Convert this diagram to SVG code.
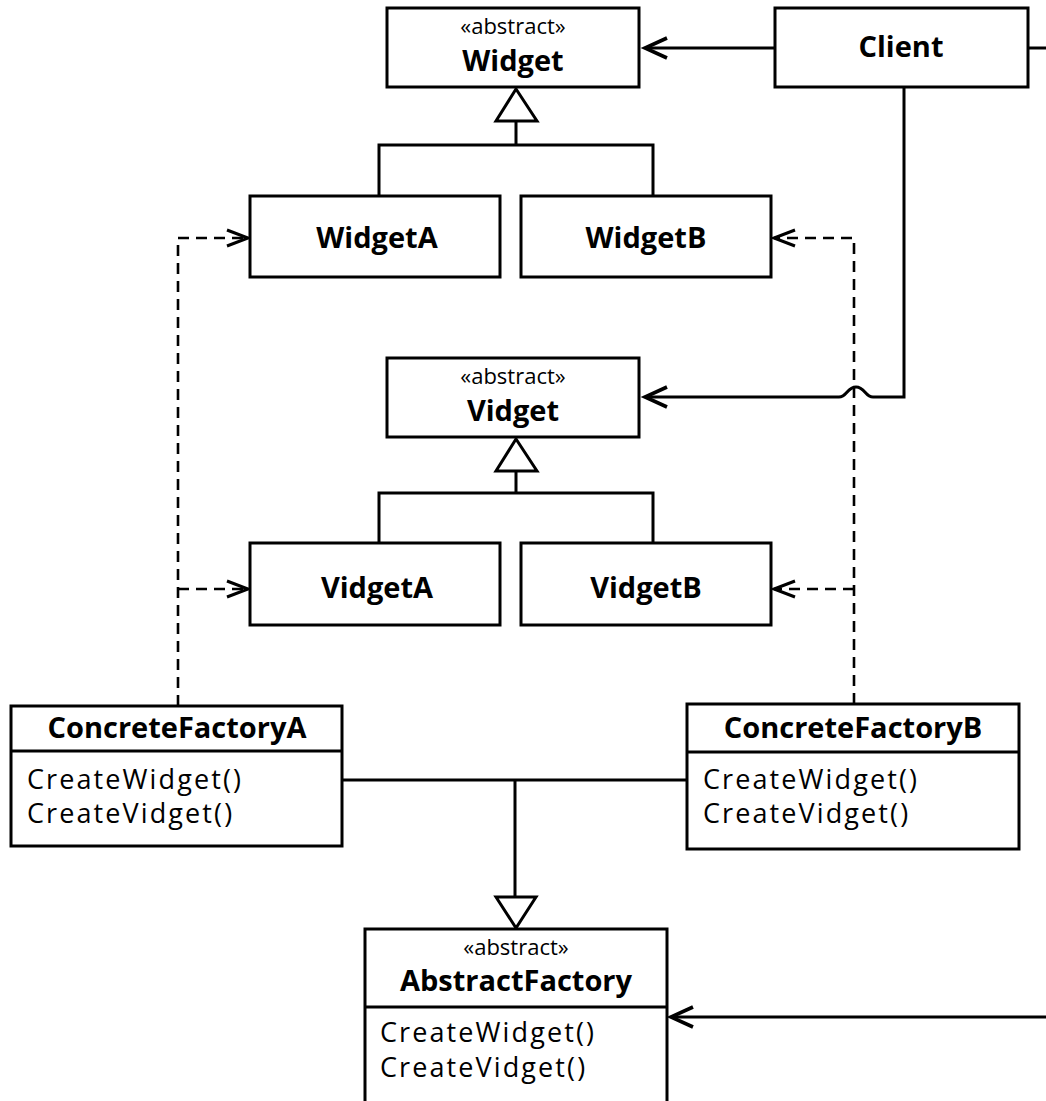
<svg xmlns="http://www.w3.org/2000/svg" width="1046" height="1101" viewBox="0 0 1046 1101">
<style>
.box{fill:#fff;stroke:#000;stroke-width:3}
.ln{fill:none;stroke:#000;stroke-width:3}
.dash{fill:none;stroke:#000;stroke-width:2.6;stroke-dasharray:11 7}
.tri{fill:#fff;stroke:#000;stroke-width:3;stroke-linejoin:miter}
.st{font-family:"Open Sans","Liberation Sans",sans-serif;font-size:22px;text-anchor:middle}
.nm{font-family:"Open Sans","Liberation Sans",sans-serif;font-size:29px;font-weight:bold;text-anchor:middle}
.mb{font-family:"Open Sans","Liberation Sans",sans-serif;font-size:27px;letter-spacing:2.1px}
</style>
<defs>
<marker id="arr" markerUnits="userSpaceOnUse" markerWidth="34" markerHeight="34" refX="25" refY="13" orient="auto">
<path d="M3,3 L25,13 L3,23" fill="none" stroke="#000" stroke-width="3.6" stroke-linejoin="miter"/>
</marker>
<marker id="darr" markerUnits="userSpaceOnUse" markerWidth="34" markerHeight="34" refX="24" refY="12" orient="auto">
<path d="M3,4 L24,12 L3,20" fill="none" stroke="#000" stroke-width="3" stroke-linejoin="miter"/>
</marker>
</defs>
<g id="connectors">
<path class="ln" d="M775,48 H645" marker-end="url(#arr)"/>
<path class="ln" d="M1028,48 H1046"/>
<path class="ln" d="M904,87 V397 H873 C865,397 865,387 856,387 C847,387 847,397 839,397 H645" marker-end="url(#arr)"/>
<path class="ln" d="M1046,1017 H671" marker-end="url(#arr)"/>
<path class="ln" d="M516,121 V145 M379,196 V145 H653 V196"/>
<polygon class="tri" points="516,89 496,121 537,121"/>
<path class="ln" d="M516,471 V493 M379,543 V493 H653 V543"/>
<polygon class="tri" points="516,439 496,471 537,471"/>
<path class="dash" d="M178,706 V238 H248" marker-end="url(#darr)"/>
<path class="dash" d="M178,589 H248" marker-end="url(#darr)"/>
<path class="dash" d="M854,704 V238 H774" marker-end="url(#darr)"/>
<path class="dash" d="M854,589 H774" marker-end="url(#darr)"/>
<path class="ln" d="M342,780 H687 M515,780 V897"/>
<polygon class="tri" points="496,897 536,897 516,928"/>
</g>
<g id="Widget">
<rect class="box" x="387" y="8" width="252" height="79"/>
<text class="st" x="513" y="34">«abstract»</text>
<text class="nm" x="513" y="71">Widget</text>
</g>
<g id="Client">
<rect class="box" x="775" y="8" width="253" height="79"/>
<text class="nm" x="901" y="57">Client</text>
</g>
<g id="WidgetA">
<rect class="box" x="250" y="196" width="250" height="81"/>
<text class="nm" x="377" y="248">WidgetA</text>
</g>
<g id="WidgetB">
<rect class="box" x="521" y="196" width="250" height="81"/>
<text class="nm" x="646" y="248">WidgetB</text>
</g>
<g id="Vidget">
<rect class="box" x="387" y="358" width="252" height="79"/>
<text class="st" x="513" y="384">«abstract»</text>
<text class="nm" x="513" y="421">Vidget</text>
</g>
<g id="VidgetA">
<rect class="box" x="250" y="543" width="250" height="82"/>
<text class="nm" x="377" y="598">VidgetA</text>
</g>
<g id="VidgetB">
<rect class="box" x="521" y="543" width="250" height="82"/>
<text class="nm" x="646" y="598">VidgetB</text>
</g>
<g id="ConcreteFactoryA">
<rect class="box" x="11" y="706" width="331" height="140"/>
<line class="ln" x1="11" y1="751" x2="342" y2="751"/>
<text class="nm" x="177" y="738">ConcreteFactoryA</text>
<text class="mb" x="27" y="789">CreateWidget()</text>
<text class="mb" x="27" y="823">CreateVidget()</text>
</g>
<g id="ConcreteFactoryB">
<rect class="box" x="687" y="704" width="332" height="145"/>
<line class="ln" x1="687" y1="752" x2="1019" y2="752"/>
<text class="nm" x="853" y="738">ConcreteFactoryB</text>
<text class="mb" x="703" y="789">CreateWidget()</text>
<text class="mb" x="703" y="823">CreateVidget()</text>
</g>
<g id="AbstractFactory">
<rect class="box" x="365" y="929" width="302" height="190"/>
<line class="ln" x1="365" y1="1007" x2="667" y2="1007"/>
<text class="st" x="516" y="955">«abstract»</text>
<text class="nm" x="516" y="991">AbstractFactory</text>
<text class="mb" x="380" y="1042">CreateWidget()</text>
<text class="mb" x="380" y="1077">CreateVidget()</text>
</g>
</svg>
